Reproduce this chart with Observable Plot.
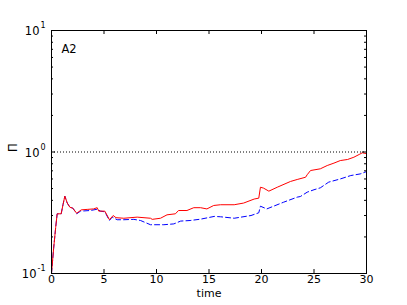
<!DOCTYPE html>
<html>
<head>
<meta charset="utf-8">
<script src="https://cdn.jsdelivr.net/npm/d3@7"></script>
<script src="https://cdn.jsdelivr.net/npm/@observablehq/plot@0.6"></script>
<style>
  html, body { margin: 0; padding: 0; background: #fff; }
  svg { font-family: "DejaVu Sans", sans-serif; }
</style>
</head>
<body>
<div id="chart"></div>
<script>
const redT = [0, 0.2, 0.4, 0.54, 0.92, 1.1, 1.27, 1.5, 1.75, 2.03, 2.4, 2.83, 3.4, 4.0, 4.35, 4.5, 5.08, 5.52, 5.87, 6.14, 6.89, 8.16, 9.43, 9.59, 10.38, 11.0, 11.8, 12.1, 12.9, 13.55, 14.2, 14.8, 15.45, 16.1, 17.4, 18.3, 19.3, 19.74, 19.9, 20.2, 20.7, 21.5, 22.76, 23.4, 24.2, 24.35, 24.67, 25.6, 26.26, 26.9, 27.5, 28.2, 28.8, 29.3, 29.6, 30];
const redV = [0.1, 0.16, 0.24, 0.31, 0.31, 0.37, 0.433, 0.38, 0.351, 0.345, 0.313, 0.334, 0.337, 0.34, 0.348, 0.326, 0.326, 0.277, 0.30, 0.288, 0.285, 0.291, 0.285, 0.279, 0.285, 0.304, 0.31, 0.33, 0.33, 0.348, 0.348, 0.34, 0.363, 0.368, 0.368, 0.38, 0.41, 0.417, 0.513, 0.504, 0.476, 0.513, 0.572, 0.594, 0.62, 0.65, 0.704, 0.727, 0.774, 0.81, 0.85, 0.868, 0.906, 0.954, 0.985, 0.97];
const blueT = [0, 0.2, 0.4, 0.54, 0.92, 1.1, 1.27, 1.5, 1.75, 2.03, 2.4, 2.76, 3.7, 4.35, 4.67, 5.08, 5.52, 5.78, 6.25, 6.89, 7.84, 8.48, 9.43, 10.7, 11.65, 12.3, 13.2, 14.2, 15.5, 16.1, 17.4, 19.0, 19.74, 19.9, 20.5, 22.1, 23.4, 23.7, 24.35, 25.0, 25.6, 26.4, 27.5, 28.5, 29.4, 30];
const blueV = [0.1, 0.16, 0.24, 0.31, 0.31, 0.37, 0.433, 0.38, 0.351, 0.345, 0.31, 0.326, 0.33, 0.338, 0.326, 0.322, 0.273, 0.291, 0.277, 0.277, 0.279, 0.273, 0.252, 0.252, 0.256, 0.27, 0.273, 0.28, 0.295, 0.293, 0.285, 0.30, 0.316, 0.358, 0.34, 0.386, 0.425, 0.43, 0.467, 0.489, 0.507, 0.565, 0.60, 0.64, 0.66, 0.69];
const xTicks = [0, 5, 10, 15, 20, 25, 30];
const yMajor = [0.1, 1, 10];
const yExp = ["-1", "0", "1"];
const yMinor = [0.2, 0.3, 0.4, 0.5, 0.6, 0.7, 0.8, 0.9, 2, 3, 4, 5, 6, 7, 8, 9];
const panelLabel = "A2";
const xLabel = "time";
const yLabel = "Π";

const red = redT.map((t, i) => ({t, v: redV[i]}));
const blue = blueT.map((t, i) => ({t, v: blueV[i]}));
const majors = yMajor.map((v, i) => ({v, e: yExp[i]}));
const majorsShort = majors.filter(d => d.e.length === 1);
const majorsLong = majors.filter(d => d.e.length > 1);

const W = 407, H = 305, mL = 51, mR = 41, mT = 30, mB = 32;
const iW = W - mL - mR, iH = H - mT - mB;

const chart = Plot.plot({
  width: W, height: H,
  marginLeft: mL, marginRight: mR, marginTop: mT, marginBottom: mB,
  x: {domain: [0, 30], axis: null},
  y: {type: "log", domain: [0.1, 10], axis: null},
  style: {fontFamily: "DejaVu Sans, sans-serif", background: "white"},
  marks: [
    Plot.ruleY([1], {stroke: "black", strokeWidth: 1, strokeDasharray: "1,2"}),
    Plot.line(blue, {x: "t", y: "v", stroke: "#0000ff", strokeWidth: 1, strokeDasharray: "5,3"}),
    Plot.line(red, {x: "t", y: "v", stroke: "#ff0000", strokeWidth: 1}),
    Plot.tickX(xTicks, {x: d => d, insetTop: iH - 4, stroke: "black"}),
    Plot.tickX(xTicks, {x: d => d, insetBottom: iH - 4, stroke: "black"}),
    Plot.tickY(yMajor, {y: d => d, insetRight: iW - 4, stroke: "black"}),
    Plot.tickY(yMajor, {y: d => d, insetLeft: iW - 4, stroke: "black"}),
    Plot.tickY(yMinor, {y: d => d, insetRight: iW - 2, stroke: "black"}),
    Plot.tickY(yMinor, {y: d => d, insetLeft: iW - 2, stroke: "black"}),
    Plot.frame({stroke: "black", strokeWidth: 1}),
    Plot.text(xTicks, {x: d => d, frameAnchor: "bottom", dy: 9.5, text: d => String(d), fontSize: 11, fill: "black"}),
    Plot.text(majorsShort, {y: "v", frameAnchor: "left", text: () => "10", textAnchor: "end", dx: -12, dy: 1, fontSize: 11.5, fill: "black"}),
    Plot.text(majorsLong, {y: "v", frameAnchor: "left", text: () => "10", textAnchor: "end", dx: -15, dy: 1, fontSize: 11.5, fill: "black"}),
    Plot.text(majors, {y: "v", frameAnchor: "left", text: "e", textAnchor: "end", dx: -6, dy: -5, fontSize: 8, fill: "black"}),
    Plot.text([xLabel], {frameAnchor: "bottom", dy: 23, text: d => d, fontSize: 11, fill: "black"}),
    Plot.text([yLabel], {frameAnchor: "left", dx: -38, rotate: -90, text: d => d, fontSize: 11.5, fill: "black"}),
    Plot.text([panelLabel], {frameAnchor: "top-left", dx: 10, dy: 14, textAnchor: "start", text: d => d, fontSize: 11.5, fill: "black"})
  ]
});
document.getElementById("chart").appendChild(chart);
</script>
</body>
</html>
